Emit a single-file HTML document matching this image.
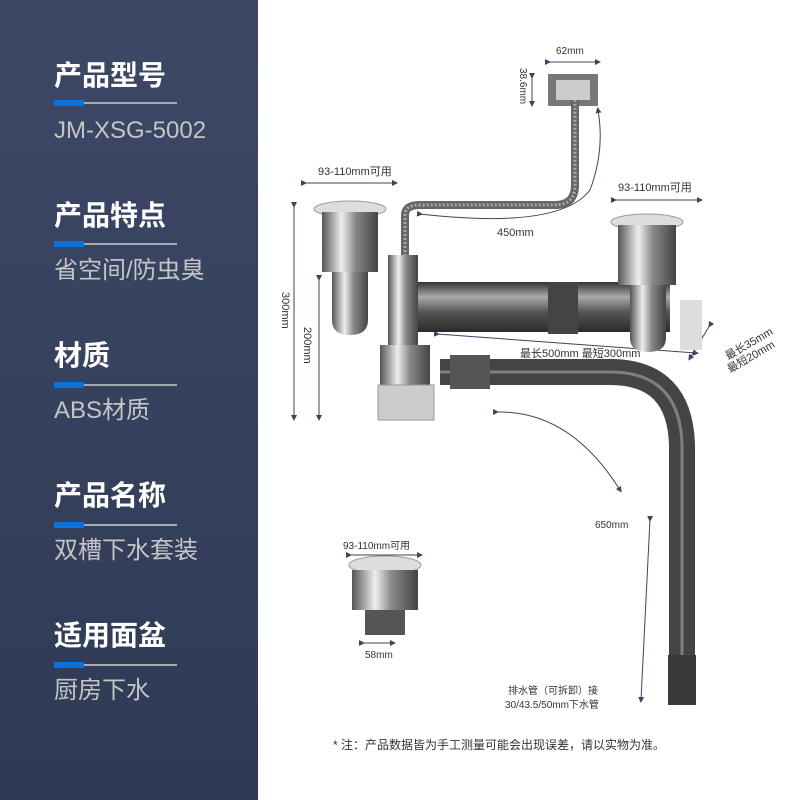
<!DOCTYPE html>
<html><head><meta charset="utf-8"><style>
*{margin:0;padding:0}
body{width:800px;height:800px;overflow:hidden;background:#fff;font-family:"Liberation Sans","Noto Sans CJK SC",sans-serif;position:relative}
#left{position:absolute;left:0;top:0;width:258px;height:800px;background:linear-gradient(180deg,#3d4866,#2f3a55)}
.h{position:absolute;left:54px;color:#fff;font-size:28px;font-weight:bold;font-family:"Noto Sans CJK SC",sans-serif;line-height:36px}
.bar{position:absolute;left:54px;width:123px;height:2px;background:#a8a8b0}
.bar:before{content:"";position:absolute;left:0;top:-2px;width:30px;height:6px;background:#0a72d8}
.s{position:absolute;left:54px;color:#c5c5c8;font-size:24px;font-family:"Liberation Sans","Noto Sans CJK SC",sans-serif;line-height:28px}
svg{position:absolute;left:0;top:0}
</style></head><body>
<div id="left"></div>
<div class="h" style="top:56px">产品型号</div><div class="bar" style="top:102px"></div><div class="s" style="top:117px">JM-XSG-5002</div>
<div class="h" style="top:196px">产品特点</div><div class="bar" style="top:243px"></div><div class="s" style="top:257px">省空间/防虫臭</div>
<div class="h" style="top:336px">材质</div><div class="bar" style="top:384px"></div><div class="s" style="top:397px">ABS材质</div>
<div class="h" style="top:476px">产品名称</div><div class="bar" style="top:524px"></div><div class="s" style="top:537px">双槽下水套装</div>
<div class="h" style="top:616px">适用面盆</div><div class="bar" style="top:664px"></div><div class="s" style="top:677px">厨房下水</div>
<svg width="800" height="800" font-family="Liberation Sans,Noto Sans CJK SC,sans-serif" font-size="11" fill="#333">
<defs>
<linearGradient id="m" x1="0" x2="1"><stop offset="0" stop-color="#555"/><stop offset=".35" stop-color="#eee"/><stop offset=".6" stop-color="#888"/><stop offset="1" stop-color="#444"/></linearGradient>
<linearGradient id="p" x1="0" y1="0" x2="0" y2="1"><stop offset="0" stop-color="#333"/><stop offset=".3" stop-color="#aaa"/><stop offset=".6" stop-color="#555"/><stop offset="1" stop-color="#2a2a2a"/></linearGradient>
<marker id="a" markerWidth="6" markerHeight="6" refX="3" refY="3" orient="auto"><path d="M0,0L6,3L0,6z" fill="#3a4560"/></marker>
</defs>
<g stroke="#3a4560" stroke-width="1" marker-start="url(#a)" marker-end="url(#a)" fill="none">
<line x1="548" y1="62" x2="598" y2="62"/>
<line x1="532" y1="76" x2="532" y2="104"/>
<line x1="304" y1="183" x2="395" y2="183"/>
<line x1="614" y1="200" x2="700" y2="200"/>
<line x1="294" y1="205" x2="294" y2="418"/>
<line x1="319" y1="278" x2="319" y2="418"/>
<path d="M420,214 Q560,230 590,190 Q605,150 598,110"/>
<path d="M437,334 L696,353"/>
<path d="M710,325 L690,358"/>
<path d="M496,412 Q570,410 620,490"/>
<path d="M650,519 L641,700"/>
<line x1="349" y1="555" x2="420" y2="555"/>
<line x1="362" y1="643" x2="393" y2="643"/>
</g>
<rect x="548" y="74" width="50" height="32" fill="#777"/><rect x="556" y="80" width="34" height="20" fill="#ccc"/>
<path d="M405,300 L405,215 Q405,205 420,205 L555,205 Q575,205 575,185 L575,100" stroke="#666" stroke-width="8" fill="none"/>
<path d="M405,300 L405,215 Q405,205 420,205 L555,205 Q575,205 575,185 L575,100" stroke="#aaa" stroke-width="3" fill="none" stroke-dasharray="2 2"/>
<rect x="395" y="282" width="275" height="50" fill="url(#p)"/>
<rect x="548" y="282" width="30" height="52" fill="#444"/>
<ellipse cx="350" cy="209" rx="36" ry="8" fill="#ddd" stroke="#999"/>
<rect x="322" y="212" width="56" height="60" fill="url(#m)"/>
<path d="M332,272 L368,272 L368,320 Q368,335 350,335 Q332,335 332,320z" fill="url(#m)"/>
<ellipse cx="647" cy="222" rx="36" ry="8" fill="#ddd" stroke="#999"/>
<rect x="618" y="225" width="58" height="60" fill="url(#m)"/>
<path d="M630,285 L666,285 L666,338 Q666,352 648,352 Q630,352 630,338z" fill="url(#m)"/>
<rect x="680" y="300" width="22" height="50" fill="#ddd"/>
<rect x="388" y="255" width="30" height="100" fill="url(#m)"/>
<rect x="380" y="345" width="50" height="40" fill="url(#m)"/>
<rect x="378" y="385" width="56" height="35" fill="#ccc" stroke="#999"/>
<path d="M440,372 L610,372 Q680,372 682,445 L682,690" stroke="#444" stroke-width="26" fill="none"/>
<path d="M440,372 L610,372 Q680,372 682,445 L682,690" stroke="#999" stroke-width="3" fill="none" opacity=".7"/>
<rect x="450" y="355" width="40" height="34" fill="#555"/>
<rect x="668" y="655" width="28" height="50" fill="#3a3a3a"/>
<ellipse cx="385" cy="565" rx="36" ry="9" fill="#ddd" stroke="#999"/>
<rect x="352" y="570" width="66" height="40" fill="url(#m)"/>
<rect x="365" y="610" width="40" height="25" fill="#555"/>
<text x="556" y="54" font-size="10">62mm</text>
<text x="520" y="68" font-size="10" transform="rotate(90 520 68)">38.6mm</text>
<text x="318" y="175">93-110mm可用</text>
<text x="618" y="191">93-110mm可用</text>
<text x="497" y="236">450mm</text>
<text x="282" y="292" transform="rotate(90 282 292)">300mm</text>
<text x="304" y="327" transform="rotate(90 304 327)">200mm</text>
<text x="520" y="357">最长500mm 最短300mm</text>
<text x="728" y="360" transform="rotate(-30 728 360)">最长35mm</text>
<text x="730" y="373" transform="rotate(-30 730 373)">最短20mm</text>
<text x="595" y="528" font-size="10">650mm</text>
<text x="343" y="549" font-size="10">93-110mm可用</text>
<text x="365" y="658" font-size="10">58mm</text>
<text x="508" y="694" font-size="10">排水管（可拆卸）接</text>
<text x="505" y="708" font-size="10">30/43.5/50mm下水管</text>
<text x="333" y="749" font-size="12">* 注：产品数据皆为手工测量可能会出现误差，请以实物为准。</text>
</svg>
</body></html>
